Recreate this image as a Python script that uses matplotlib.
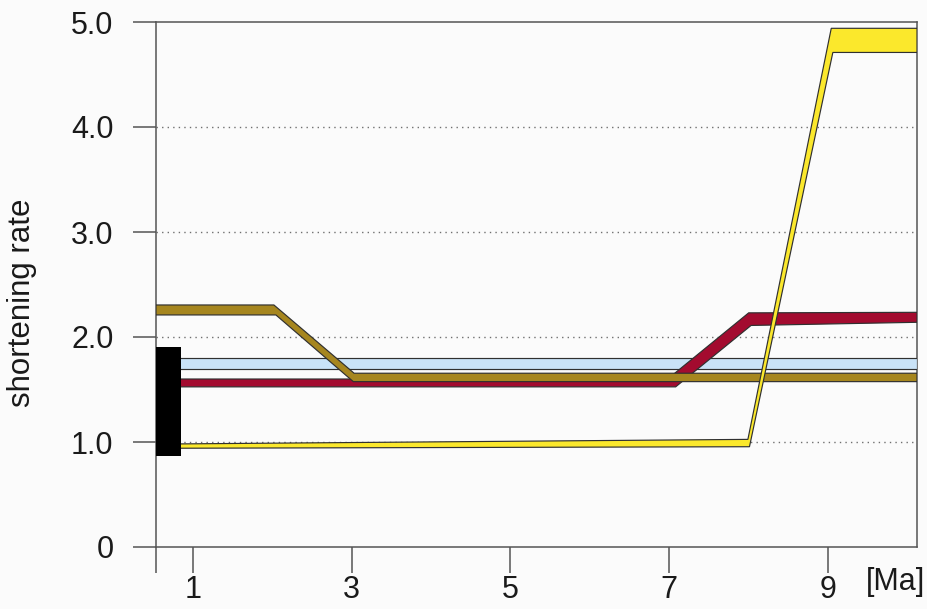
import numpy as np
import matplotlib
matplotlib.use("Agg")
import matplotlib.pyplot as plt

# axis range [Ma]
x_min, x_max = 0.535, 10.12

# bands: upper and lower edge of each shortening-rate envelope
blue_x = [x_min, x_max]
blue_hi = [1.80, 1.80]
blue_lo = [1.70, 1.70]

red_hi_x = [x_min, 6.98, 8.00, x_max]
red_hi = [1.60, 1.60, 2.23, 2.235]
red_lo_x = [x_min, 7.08, 8.03, x_max]
red_lo = [1.525, 1.525, 2.11, 2.14]

brown_hi_x = [x_min, 2.02, 3.03, x_max]
brown_hi = [2.305, 2.305, 1.655, 1.655]
brown_lo_x = [x_min, 2.045, 3.02, x_max]
brown_lo = [2.21, 2.21, 1.575, 1.575]

yellow_hi_x = [x_min, 7.99, 9.04, x_max]
yellow_hi = [0.98, 1.025, 4.94, 4.94]
yellow_lo_x = [x_min, 8.01, 9.06, x_max]
yellow_lo = [0.94, 0.955, 4.71, 4.71]

# black bar on the left (present-day estimate)
bar_x = [x_min, 0.85]
bar_lo = 0.87
bar_hi = 1.905

x_ticks = [x_min, 1, 3, 5, 7, 9]
x_labels = ["", "1", "3", "5", "7", "9"]
y_ticks = [0, 1, 2, 3, 4, 5]
y_labels = ["0", "1.0", "2.0", "3.0", "4.0", "5.0"]

plt.rcParams["font.family"] = ["Liberation Sans", "DejaVu Sans"]

EDGE = "#303030"
AXC = "#555555"
TXT = "#1a1a1a"


def band(ax, hx, hy, lx, ly, color):
    """Draw a band as a closed polygon from its upper and lower edge."""
    xs = np.r_[hx, lx[::-1]]
    ys = np.r_[hy, ly[::-1]]
    ax.fill(xs, ys, facecolor=color, edgecolor=EDGE, linewidth=0.85, zorder=3)


fig = plt.figure(figsize=(9.28, 6.09), dpi=100, facecolor="#fbfbfb")
ax = fig.add_axes([156 / 928, 1 - 547 / 609, 761 / 928, 525 / 609])
ax.set_facecolor("#fbfbfb")

band(ax, blue_x, blue_hi, blue_x, blue_lo, "#c9e3f8")
band(ax, red_hi_x, red_hi, red_lo_x, red_lo, "#a30b2f")
band(ax, brown_hi_x, brown_hi, brown_lo_x, brown_lo, "#a6861f")
band(ax, yellow_hi_x, yellow_hi, yellow_lo_x, yellow_lo, "#fbe82c")
ax.fill_between(bar_x, bar_lo, bar_hi, color="black", linewidth=0, zorder=4)

ax.set_xlim(x_min, x_max)
ax.set_ylim(0, 5.0)

ax.set_xticks(x_ticks)
ax.set_xticklabels(x_labels)
ax.set_yticks(y_ticks)
ax.set_yticklabels(y_labels)

# dotted reference lines
for y in y_ticks[1:-1]:
    ax.axhline(y, color="#707070", linestyle=(0, (1, 3)), linewidth=1.0, zorder=1)

for s in ax.spines.values():
    s.set_color(AXC)
    s.set_linewidth(1.1)

ax.tick_params(axis="x", direction="out", length=18.7, width=1.1, color=AXC,
               pad=1.5, labelsize=22, labelcolor=TXT)
ax.tick_params(axis="y", direction="out", length=16.6, width=1.1, color=AXC,
               pad=14, labelsize=22, labelcolor=TXT)

fig.text(22 / 928, 1 - 303 / 609, "shortening rate", rotation=90,
         ha="center", va="center", fontsize=22.5, color=TXT)
fig.text(866 / 928, 1 - 582 / 609, "[Ma]", ha="left", va="center",
         fontsize=22, color=TXT)

fig.savefig("out.png", dpi=100, facecolor=fig.get_facecolor())
